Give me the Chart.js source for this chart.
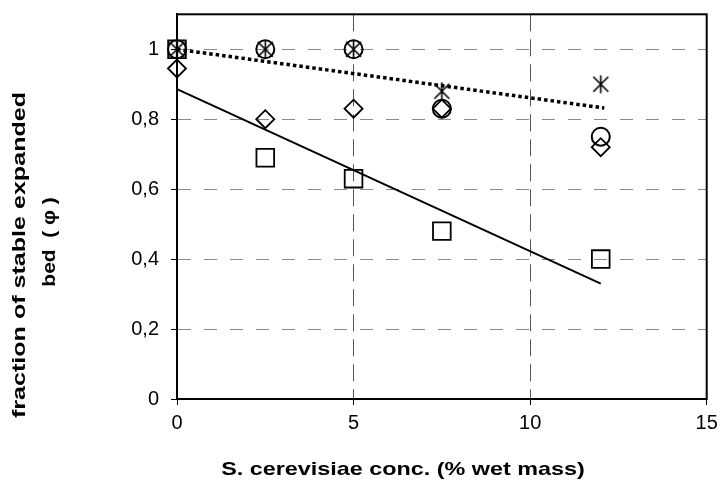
<!DOCTYPE html>
<html>
<head>
<meta charset="utf-8">
<script src="https://cdn.jsdelivr.net/npm/chart.js@4"></script>
<style>
  html, body { margin: 0; padding: 0; background: #fff; }
  #wrap { width: 721px; height: 491px; }
</style>
</head>
<body>
<div id="wrap"><canvas id="myChart" width="721" height="491"></canvas></div>
<script>
// concentrations (% wet mass)
const conc = [0, 2.5, 5, 7.5, 12];

// measured fractions per series
const squares = [1.0, 0.69, 0.63, 0.48, 0.40];
const diamonds = [0.945, 0.80, 0.83, 0.83, 0.72];
const circles = [1.0, 1.0, 1.0, 0.83, 0.75];
const stars = [1.0, 1.0, 1.0, 0.88, 0.90];

// trend lines (end points)
const solidTrendX = [0, 12];
const solidTrendY = [0.886, 0.33];
const dotTrendX = [0, 12.1];
const dotTrendY = [1.0, 0.832];

const yTicks = [0, 0.2, 0.4, 0.6, 0.8, 1];

function pts(xs, ys) {
    return xs.map((x, i) => ({x: x, y: ys[i]}));
}

// excel style star: x plus vertical bar
function makeStar(size) {
    const c = document.createElement('canvas');
    c.width = size;
    c.height = size;
    const g = c.getContext('2d');
    g.strokeStyle = '#000';
    g.lineWidth = 1.6;
    g.beginPath();
    g.moveTo(2, 2); g.lineTo(size - 2, size - 2);
    g.moveTo(size - 2, 2); g.lineTo(2, size - 2);
    g.moveTo(size / 2, 0.5); g.lineTo(size / 2, size - 0.5);
    g.stroke();
    return c;
}
const starImg = makeStar(19);

const FONT = "'Liberation Sans', Arial, sans-serif";

// draws text stretched along its own direction
function wideText(ctx, text, x, y, angle, stretch) {
    ctx.save();
    ctx.translate(x, y);
    ctx.rotate(angle);
    ctx.scale(stretch, 1);
    ctx.fillText(text, 0, 0);
    ctx.restore();
}

const frame = {
    id: 'frame',
    beforeDatasetsDraw(chart) {
        const a = chart.chartArea;
        const ctx = chart.ctx;
        ctx.save();
        ctx.strokeStyle = '#000';
        ctx.lineWidth = 2;
        ctx.strokeRect(a.left, a.top, a.right - a.left, a.bottom - a.top);
        ctx.restore();
    },
    afterDraw(chart) {
        const ctx = chart.ctx;
        ctx.save();
        ctx.fillStyle = '#000';
        ctx.font = "bold 19px " + FONT;
        ctx.textAlign = 'center';
        ctx.textBaseline = 'middle';
        wideText(ctx, 'S. cerevisiae conc. (% wet mass)', 403, 470, 0, 1.23);
        wideText(ctx, 'fraction of stable expanded', 20, 255, -Math.PI / 2, 1.32);
        wideText(ctx, 'bed  ( \u03C6 )', 50, 242, -Math.PI / 2, 1.1);
        ctx.restore();
    }
};

const ctx = document.getElementById('myChart');
const chart = new Chart(ctx, {
    type: 'scatter',
    data: {
        datasets: [
            {
                data: pts(solidTrendX, solidTrendY),
                showLine: true,
                borderColor: '#000',
                borderWidth: 2,
                pointRadius: 0
            },
            {
                data: pts(dotTrendX, dotTrendY),
                showLine: true,
                borderColor: '#000',
                borderWidth: 3.5,
                borderDash: [3.5, 3],
                borderCapStyle: 'butt',
                pointRadius: 0
            },
            {
                data: pts(conc, squares),
                pointStyle: 'rect',
                pointRadius: 12.5,
                backgroundColor: 'rgba(0,0,0,0)',
                borderColor: '#000',
                borderWidth: 1.8
            },
            {
                data: pts(conc, diamonds),
                pointStyle: 'rectRot',
                pointRadius: 9,
                backgroundColor: 'rgba(0,0,0,0)',
                borderColor: '#000',
                borderWidth: 1.8
            },
            {
                data: pts(conc, circles),
                pointStyle: 'circle',
                pointRadius: 9,
                backgroundColor: 'rgba(0,0,0,0)',
                borderColor: '#000',
                borderWidth: 2
            },
            {
                data: pts(conc, stars),
                pointStyle: starImg,
                pointRadius: 9,
                borderColor: '#000'
            }
        ]
    },
    options: {
        responsive: false,
        animation: false,
        clip: false,
        layout: { padding: { top: 13, right: 14, left: 0, bottom: 0 } },
        plugins: {
            legend: { display: false },
            tooltip: { enabled: false }
        },
        scales: {
            x: {
                type: 'linear',
                min: 0,
                max: 15,
                afterFit(s) {
                    s.height = 92;
                    s.paddingLeft = 0;
                    s.paddingRight = 0;
                },
                ticks: {
                    stepSize: 5,
                    color: '#000',
                    padding: 6,
                    font: { family: FONT, size: 20 }
                },
                grid: {
                    color: '#555',
                    lineWidth: 1,
                    tickLength: 6,
                    tickColor: '#000',
                    tickBorderDash: []
                },
                border: { display: true, color: '#000', width: 2, dash: [17, 8] }
            },
            y: {
                type: 'linear',
                min: 0,
                max: 1.1,
                afterFit(s) {
                    s.width = 177;
                    s.paddingTop = 0;
                    s.paddingBottom = 0;
                },
                afterBuildTicks(s) { s.ticks = yTicks.map(v => ({value: v})); },
                ticks: {
                    color: '#000',
                    padding: 12,
                    font: { family: FONT, size: 20 },
                    callback: v => String(Math.round(v * 10) / 10).replace('.', ',')
                },
                grid: {
                    color: '#8a8a8a',
                    lineWidth: 1,
                    tickLength: 6,
                    tickColor: '#000',
                    tickBorderDash: []
                },
                border: { display: true, color: '#000', width: 2, dash: [13, 13] }
            }
        }
    },
    plugins: [frame]
});
</script>
</body>
</html>
